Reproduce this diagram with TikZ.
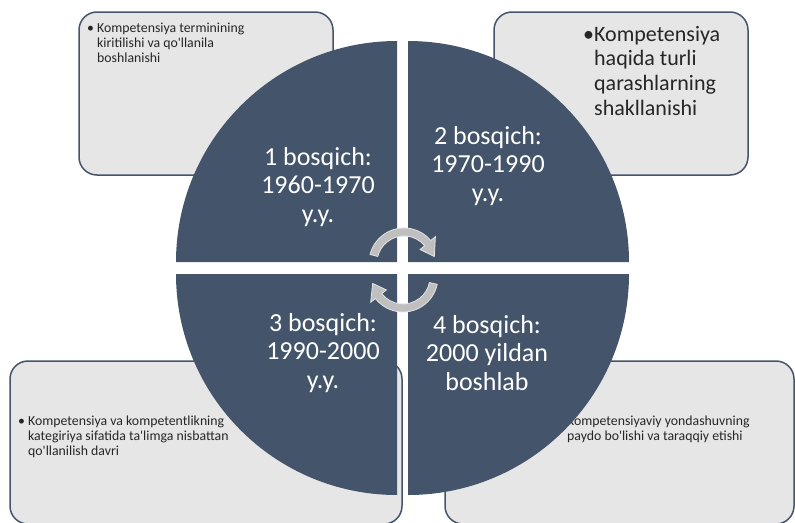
\documentclass[tikz,border=0pt]{standalone}
\usepackage{fontspec}
\setmainfont{Carlito}
\definecolor{slate}{RGB}{68,84,106}
\definecolor{boxfill}{RGB}{231,230,230}
\definecolor{arrfill}{RGB}{191,191,191}
\definecolor{arrline}{RGB}{228,228,228}
\definecolor{txt}{RGB}{38,38,38}
\begin{document}
\begin{tikzpicture}[x=1pt,y=-1pt,
  quad/.style={fill=slate},
  infobox/.style={draw=slate, line width=1.5pt, fill=boxfill, rounded corners=18pt},
  qtext/.style={text=white, font=\fontsize{26}{28.5}\selectfont, align=center, inner sep=0pt},
  stext/.style={text=txt, font=\fontsize{13.8}{14.8}\selectfont, align=left, inner sep=0pt, anchor=north west},
  btext/.style={text=txt, font=\fontsize{22}{24.6}\selectfont, align=left, inner sep=0pt, anchor=north west},
  cyc/.style={fill=arrfill, draw=arrline, line width=0.8pt}]
\useasboundingbox (0,0) rectangle (795,522);
% boxes
\draw[infobox] (79,12) rectangle (333,175);
\draw[infobox] (494,12) rectangle (748,175);
\draw[infobox] (10,361) rectangle (402,524);
\draw[infobox] (445,361) rectangle (794,524);
% box texts
\node[stext] (t1) at (87,23) {\makebox[10pt][l]{•}Kompetensiya terminining\\\hspace*{10pt}kiritilishi va qo\textquotesingle llanila\\\hspace*{10pt}boshlanishi};
\node[btext] (t2) at (583,26) {•Kompetensiya\\\phantom{•}haqida turli\\\phantom{•}qarashlarning\\\phantom{•}shakllanishi};
\node[stext] (t3) at (18,416) {\makebox[10pt][l]{•}Kompetensiya va kompetentlikning\\\hspace*{10pt}kategiriya sifatida ta\textquotesingle limga nisbattan\\\hspace*{10pt}qo\textquotesingle llanilish davri};
\node[stext] (t4) at (557,416) {\makebox[10pt][l]{•}Kompetensiyaviy yondashuvning\\\hspace*{10pt}paydo bo\textquotesingle lishi va taraqqiy etishi};
% quadrants
\fill[quad] (397,262) -- (176,262) arc[start angle=180,end angle=90,radius=221pt] -- cycle;
\fill[quad] (408,262) -- (408,41) arc[start angle=90,end angle=0,radius=221pt] -- cycle;
\fill[quad] (397,274) -- (397,495) arc[start angle=270,end angle=180,radius=221pt] -- cycle;
\fill[quad] (408,274) -- (629,274) arc[start angle=0,end angle=-90,radius=221pt] -- cycle;
% quadrant texts
\node[qtext] (q1) at (318,187) {1 bosqich:\\1960-1970\\y.y.};
\node[qtext] (q2) at (488,166) {2 bosqich:\\1970-1990\\y.y.};
\node[qtext] (q3) at (323,353) {3 bosqich:\\1990-2000\\y.y.};
\node[qtext] (q4) at (487,353) {4 bosqich:\\2000 yildan\\boshlab};
% cycle arrows
\begin{scope}[shift={(404,263)}]
\filldraw[cyc] (166:35pt) arc[start angle=166,end angle=40,radius=35pt] -- (40:41pt) -- (12:31pt) -- (40:21pt) -- (40:27pt) arc[start angle=40,end angle=166,radius=27pt] -- cycle;
\end{scope}
\begin{scope}[shift={(403,277)}]
\filldraw[cyc] (-12:35pt) arc[start angle=-12,end angle=-142,radius=35pt] -- (-142:41pt) -- (-168:31pt) -- (-142:21pt) -- (-142:27pt) arc[start angle=-142,end angle=-12,radius=27pt] -- cycle;
\end{scope}
\end{tikzpicture}
\end{document}
